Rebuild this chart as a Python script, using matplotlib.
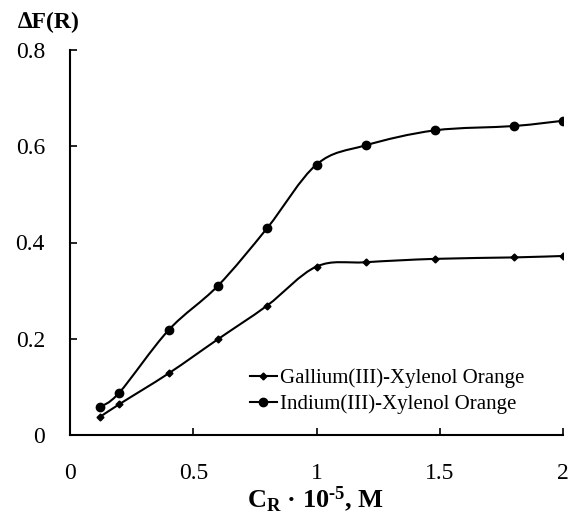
import matplotlib
matplotlib.use('Agg')
import matplotlib.pyplot as plt
from matplotlib.path import Path
from matplotlib.patches import PathPatch
import numpy as np

# Datos
conc_ga = [0.12, 0.2, 0.4, 0.6, 0.8, 1.0, 1.2, 1.48, 1.8, 2.0]
df_ga = [0.037, 0.064, 0.128, 0.199, 0.269, 0.350, 0.359, 0.366, 0.369, 0.372]

conc_in = [0.12, 0.2, 0.4, 0.6, 0.8, 1.0, 1.2, 1.48, 1.8, 2.0]
df_in = [0.058, 0.088, 0.218, 0.310, 0.430, 0.562, 0.602, 0.633, 0.642, 0.653]

labels = ['Gallium(III)-Xylenol Orange', 'Indium(III)-Xylenol Orange']
xticks = [0, 0.5, 1, 1.5, 2]
yticks = [0, 0.2, 0.4, 0.6, 0.8]

plt.rcParams['font.family'] = ['Liberation Serif', 'DejaVu Serif']
plt.rcParams['mathtext.fontset'] = 'custom'
plt.rcParams['mathtext.rm'] = 'Liberation Serif'
plt.rcParams['mathtext.bf'] = 'Liberation Serif:bold'
plt.rcParams['mathtext.it'] = 'Liberation Serif:italic'


def smooth_path(xs, ys):
    # curva suavizada tipo Excel (Catmull-Rom como Bezier cúbica)
    p = np.column_stack([xs, ys])
    verts = [p[0]]
    codes = [Path.MOVETO]
    n = len(p)
    for i in range(n - 1):
        p0 = p[i - 1] if i > 0 else p[i]
        p3 = p[i + 2] if i + 2 < n else p[i + 1]
        c1 = p[i] + (p[i + 1] - p0) / 6.0
        c2 = p[i + 1] - (p3 - p[i]) / 6.0
        verts += [c1, c2, p[i + 1]]
        codes += [Path.CURVE4] * 3
    return Path(verts, codes)


fig = plt.figure(figsize=(5.72, 5.13), dpi=100)
ax = fig.add_axes([70 / 572, 1 - 435 / 513, 493 / 572, 385 / 513])

for xs, ys, mk, ms in [(conc_ga, df_ga, 'D', 3.5), (conc_in, df_in, 'o', 6)]:
    ax.add_patch(PathPatch(smooth_path(xs, ys), facecolor='none',
                           edgecolor='black', lw=1.5, transform=ax.transData))
    ax.plot(xs, ys, linestyle='none', marker=mk, markersize=ms, color='black')

# manejadores de leyenda
h1, = ax.plot([], [], '-', marker='D', markersize=3.5, color='black', lw=1.5)
h2, = ax.plot([], [], '-', marker='o', markersize=6, color='black', lw=1.5)
ax.legend([h1, h2], labels, loc='center left', bbox_to_anchor=(0.365, 0.114),
          frameon=False, fontsize=15, handlelength=1.3, handletextpad=0.15,
          borderpad=0, borderaxespad=0, labelspacing=0.3)

ax.set_xlim(0, 2)
ax.set_ylim(0, 0.8)
ax.set_xticks(xticks)
ax.set_xticklabels(['0', '0.5', '1', '1.5', '2'])
ax.set_yticks(yticks)
ax.set_yticklabels(['0', '0.2', '0.4', '0.6', '0.8'])
ax.spines['top'].set_visible(False)
ax.spines['right'].set_visible(False)
for s in ['left', 'bottom']:
    ax.spines[s].set_linewidth(1.5)
ax.tick_params(axis='x', direction='in', length=5, width=1.2, pad=20, labelsize=17)
ax.tick_params(axis='y', direction='in', length=5, width=1.2, pad=18, labelsize=17)

fig.text(316 / 572, 1 - 499 / 513, 'C$_\\mathbf{R}$ · 10$^\\mathbf{\u20105}$, M',
         ha='center', va='center', fontsize=19, fontweight='bold')
fig.text(18 / 572, 1 - 22 / 513, '∆F(R)', ha='left', va='center',
         fontsize=17, fontweight='bold')

plt.savefig('out.png', dpi=100)
